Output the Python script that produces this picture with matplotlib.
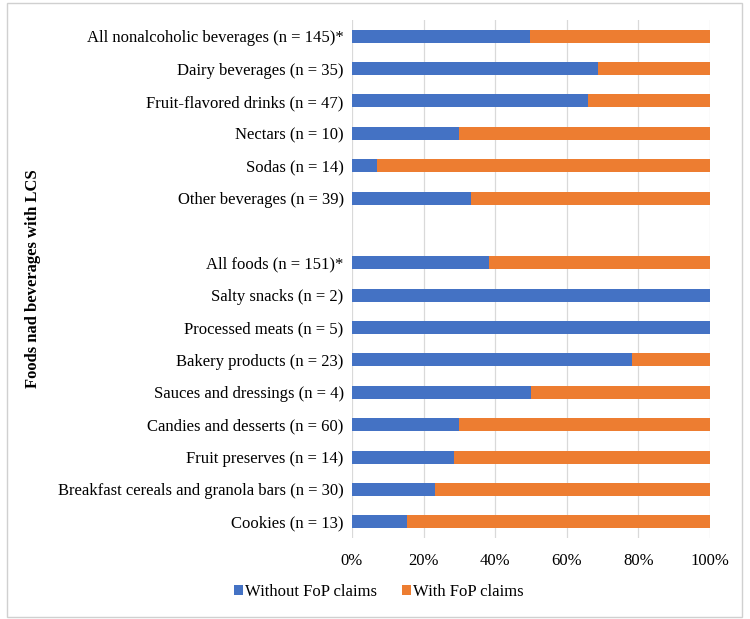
import matplotlib
matplotlib.use("Agg")
import matplotlib.pyplot as plt
from matplotlib.patches import Rectangle, Patch

plt.rcParams['font.family'] = ['Liberation Serif', 'DejaVu Serif']

categories = [
    "All nonalcoholic beverages (n = 145)*",
    "Dairy beverages (n = 35)",
    "Fruit-flavored drinks (n = 47)",
    "Nectars (n = 10)",
    "Sodas (n = 14)",
    "Other beverages (n = 39)",
    "",
    "All foods (n = 151)*",
    "Salty snacks (n = 2)",
    "Processed meats (n = 5)",
    "Bakery products (n = 23)",
    "Sauces and dressings (n = 4)",
    "Candies and desserts (n = 60)",
    "Fruit preserves (n = 14)",
    "Breakfast cereals and granola bars (n = 30)",
    "Cookies (n = 13)",
]
without_fop = [49.7, 68.6, 66.0, 30.0, 7.1, 33.3, None, 38.4, 100.0, 100.0, 78.3, 50.0, 30.0, 28.6, 23.3, 15.4]
xticks = [0, 20, 40, 60, 80, 100]
xticklabels = ["0%", "20%", "40%", "60%", "80%", "100%"]
series_names = ["Without FoP claims", "With FoP claims"]
colors = ["#4472C4", "#ED7D31"]

fig = plt.figure(figsize=(7.5, 6.19), dpi=100)
ax = fig.add_axes([0.4693, 0.1309, 0.4774, 0.8368])

ys = list(range(len(categories)))
for y, w in zip(ys, without_fop):
    if w is None:
        continue
    ax.barh(y, w, height=0.4, color=colors[0], zorder=3)
    ax.barh(y, 100 - w, left=w, height=0.4, color=colors[1], zorder=3)

ax.set_ylim(len(categories) - 0.5, -0.5)
ax.set_xlim(0, 100)
ax.set_yticks(ys)
ax.set_yticklabels(categories, fontsize=12)
ax.set_xticks(xticks)
ax.set_xticklabels(xticklabels, fontsize=12)
ax.tick_params(axis="y", length=0, pad=6)
ax.tick_params(axis="x", length=0, pad=11)
ax.xaxis.grid(True, color="#D9D9D9", linewidth=0.9, zorder=0)
for s in ax.spines.values():
    s.set_visible(False)

fig.text(33 / 750, 1 - 279 / 619, "Foods nad beverages with LCS", rotation=90,
         fontsize=12, fontweight="bold", ha="center", va="center")

handles = [Patch(facecolor=c, edgecolor="none", label=n) for c, n in zip(colors, series_names)]
fig.legend(handles=handles, loc="center", bbox_to_anchor=(379 / 750, 1 - 592 / 619), ncol=2,
           frameon=False, fontsize=12, handlelength=0.5, handleheight=0.5, handletextpad=0.15,
           columnspacing=1.5, borderpad=0)

fig.patches.append(Rectangle((7 / 750, 2 / 619), 735 / 750, 614 / 619, transform=fig.transFigure,
                             fill=False, edgecolor="#D0D0D0", linewidth=1.0))

fig.savefig("out.png", dpi=100)
